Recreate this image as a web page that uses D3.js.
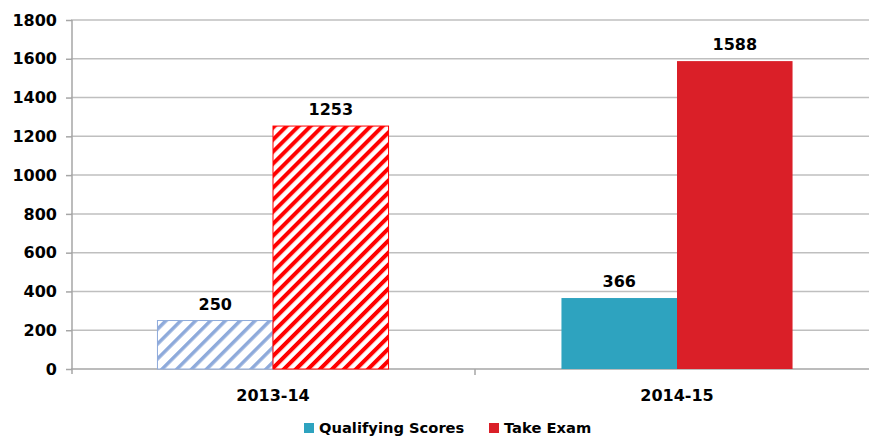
<!DOCTYPE html>
<html lang="en">
<head>
    <meta charset="UTF-8">
    <title>Qualifying Scores vs Take Exam</title>
    <script src="https://d3js.org/d3.v7.min.js"></script>
    <style>
        body { margin: 0; background: #fff; }
        text { font-family: "DejaVu Sans", sans-serif; font-weight: bold; fill: #000; }
        .grid line { stroke: #bfbfbf; stroke-width: 1.5; }
    </style>
</head>
<body>
<svg width="869" height="441"></svg>
<script>
    var years = ["2013-14", "2014-15"];
    var seriesNames = ["Qualifying Scores", "Take Exam"];
    var qualifying = [250, 366];
    var takeExam = [1253, 1588];
    var yTicks = [0, 200, 400, 600, 800, 1000, 1200, 1400, 1600, 1800];

    var data = years.map(function(y, i) {
        return { year: y, values: [qualifying[i], takeExam[i]] };
    });

    var svg = d3.select("svg");

    // hatch patterns for the first year
    var defs = svg.append("defs");
    function hatch(id, color, size, lineW) {
        var p = defs.append("pattern")
            .attr("id", id)
            .attr("patternUnits", "userSpaceOnUse")
            .attr("width", size)
            .attr("height", size)
            .attr("patternTransform", "rotate(45)");
        p.append("rect").attr("width", size).attr("height", size).attr("fill", "#fff");
        p.append("rect").attr("width", lineW).attr("height", size).attr("fill", color);
    }
    hatch("hatchBlue", "#8eaadb", 10.5, 3.5);
    hatch("hatchRed", "#ff0000", 8.5, 4);

    var x0 = d3.scaleBand().domain(years).range([71, 879]).paddingInner(0.428).paddingOuter(0.214);
    var x1 = d3.scaleBand().domain(seriesNames).range([0, x0.bandwidth()]);
    var y = d3.scaleLinear().domain([0, 1800]).range([369, 20]);

    // gridlines
    svg.append("g")
        .attr("class", "grid")
        .selectAll("line")
        .data(yTicks.slice(1))
        .enter().append("line")
        .attr("x1", 71).attr("x2", 879)
        .attr("y1", function(d) { return y(d); })
        .attr("y2", function(d) { return y(d); });

    // y axis
    var yAxis = svg.append("g")
        .attr("transform", "translate(72,0)")
        .call(d3.axisLeft(y).tickValues(yTicks).tickFormat(d3.format("d")).tickSize(6).tickPadding(9));
    yAxis.selectAll("line, path").attr("stroke", "#a6a6a6").attr("stroke-width", 1.5);
    yAxis.select(".domain").attr("d", "M0,20V374");
    yAxis.selectAll("text").attr("font-size", "16px").attr("font-family", null);

    // x axis
    var xAxis = svg.append("g")
        .attr("transform", "translate(0,369)");
    xAxis.append("line")
        .attr("x1", 71).attr("x2", 879)
        .attr("stroke", "#a6a6a6").attr("stroke-width", 1.5);
    xAxis.selectAll(".tk")
        .data(years.slice(1))
        .enter().append("line")
        .attr("x1", function(d) { return x0(d) - x0.step() * x0.paddingInner() / 2; })
        .attr("x2", function(d) { return x0(d) - x0.step() * x0.paddingInner() / 2; })
        .attr("y1", 0).attr("y2", 6)
        .attr("stroke", "#a6a6a6").attr("stroke-width", 1.5);
    xAxis.selectAll(".lab")
        .data(years)
        .enter().append("text")
        .attr("x", function(d) { return x0(d) + x0.bandwidth() / 2; })
        .attr("y", 32)
        .attr("text-anchor", "middle")
        .attr("font-size", "16px")
        .text(function(d) { return d; });

    var solid = ["#2ea3bf", "#da1f28"];
    var hatched = ["url(#hatchBlue)", "url(#hatchRed)"];
    var edge = ["#8eaadb", "#ff0000"];

    var groups = svg.selectAll(".grp")
        .data(data)
        .enter().append("g")
        .attr("transform", function(d) { return "translate(" + x0(d.year) + ",0)"; });

    groups.selectAll("rect")
        .data(function(d, gi) {
            return d.values.map(function(v, si) { return { v: v, s: si, g: gi }; });
        })
        .enter().append("rect")
        .attr("x", function(d) { return x1(seriesNames[d.s]); })
        .attr("y", function(d) { return y(d.v); })
        .attr("width", x1.bandwidth())
        .attr("height", function(d) { return y(0) - y(d.v); })
        .attr("fill", function(d) { return d.g === 0 ? hatched[d.s] : solid[d.s]; })
        .attr("stroke", function(d) { return d.g === 0 ? edge[d.s] : "none"; })
        .attr("stroke-width", 1);

    groups.selectAll(".val")
        .data(function(d) { return d.values.map(function(v, si) { return { v: v, s: si }; }); })
        .enter().append("text")
        .attr("x", function(d) { return x1(seriesNames[d.s]) + x1.bandwidth() / 2; })
        .attr("y", function(d) { return y(d.v) - 11; })
        .attr("text-anchor", "middle")
        .attr("font-size", "16px")
        .text(function(d) { return d.v; });

    // legend
    var legend = svg.append("g").attr("transform", "translate(304,423)");
    var lx = [0, 185];
    seriesNames.forEach(function(name, i) {
        legend.append("rect")
            .attr("x", lx[i]).attr("y", 0)
            .attr("width", 10).attr("height", 10)
            .attr("fill", solid[i]);
        legend.append("text")
            .attr("x", lx[i] + 15).attr("y", 10)
            .attr("font-size", "14.7px")
            .text(name);
    });
</script>
</body>
</html>
